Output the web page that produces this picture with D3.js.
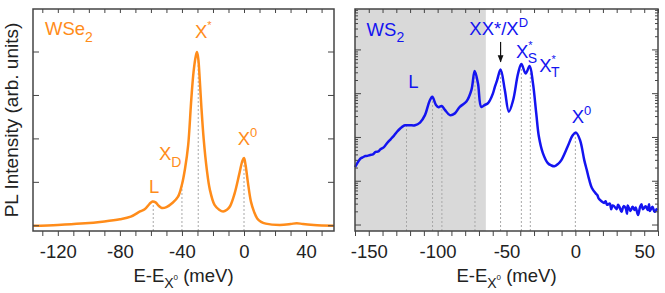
<!DOCTYPE html>
<html>
<head>
<meta charset="utf-8">
<script src="https://cdn.jsdelivr.net/npm/d3@7"></script>
<style>
  body { margin: 0; background: #fff; }
  svg { display: block; font-family: "Liberation Sans", Arial, sans-serif; }
</style>
</head>
<body>
<svg id="chart" width="665" height="293"></svg>
<script>
// WSe2 spectrum (energy in meV relative to X0, linear intensity)
const wse2Energy = [-136, -120, -105, -90, -80, -73, -67, -64, -61, -59, -57, -55, -53, -50, -46, -42.5,
  -40, -38, -36, -34, -32.5, -31, -30.3, -29.5, -28.5, -27.5, -26, -24, -22, -19, -16, -13.5, -11, -9, -6,
  -3, -1, 0, 1, 2.5, 4.5, 6.5, 8.5, 11, 14, 23, 30, 34, 38, 45, 58];
const wse2Intensity = [0.0, 0.02, 0.05, 0.1, 0.15, 0.21, 0.33, 0.38, 0.5, 0.56, 0.54, 0.46, 0.41, 0.43, 0.53, 0.67,
  0.95, 1.32, 1.85, 2.9, 3.55, 3.92, 4.0, 3.85, 3.35, 2.75, 2.0, 1.3, 0.83, 0.48, 0.37, 0.33, 0.37, 0.45, 0.75,
  1.2, 1.5, 1.56, 1.4, 1.0, 0.55, 0.32, 0.17, 0.09, 0.05, 0.02, 0.04, 0.06, 0.04, 0.02, 0.0];
const wse2Marks = [-58.5, -40, -29.5, 0];

// WS2 spectrum (log intensity)
const ws2Energy = [-160, -158, -156, -154.5, -152.5, -151, -149, -147, -145, -143, -141.5, -139, -136.8, -134, -132,
  -129.5, -127, -125, -123.5, -120, -116.4, -112.8, -109.2, -106, -103.9, -101.2, -99.3, -97.1, -94.7,
  -91.1, -87.5, -83.9, -79.1, -75.5, -73.1, -70.7, -68.3, -65.9, -63.5, -62, -59.9, -58.4, -56.8, -54.3,
  -51.2, -48.3, -45.2, -41.6, -39.2, -36.1, -33.2, -30.8, -28.4, -26.5, -23.6, -20, -17.5, -15.2, -12.5,
  -10.3, -5.6, -1.9, 0.5, 3.4, 6.5, 8.5, 10.1, 12, 14.9, 16, 17, 19, 20.9, 22, 23, 25, 26, 27, 28.1, 30, 31,
  32, 33.5, 35, 36.6, 37.5, 38, 40, 41.5, 43, 43.8, 45.5, 47, 48, 49, 51, 52.5, 53.5, 54, 56, 57.5, 59.4];
const ws2Intensity = [21, 27, 33, 35, 37.6, 38, 39.8, 41, 46.8, 48, 53.7, 60, 74, 92, 107,
  135, 162, 182, 190, 190, 190, 219, 324, 661, 851, 550, 490, 525, 427,
  324, 355, 501, 661, 1202, 3311, 1698, 501, 550, 603, 708, 1000, 1445, 2042, 3548,
  1202, 389, 708, 2884, 4786, 2884, 4266, 1738, 355, 105, 44, 26, 23, 22, 25,
  30, 62, 112, 129, 87, 30, 17, 10.7, 7, 5.2, 4.8, 4.0, 3.5, 3.2, 3.5, 2.9, 3.1, 2.3, 2.8, 2.7, 2.3, 2.9,
  2.6, 2.0, 2.7, 2.4, 1.8, 2.8, 2.1, 2.6, 2.2, 2.5, 1.7, 2.6, 3.0, 2.3, 2.7, 2.2, 3.0, 2.1, 2.6, 2.0, 2.4, 1.9];
const ws2Marks = [-122.6, -103.7, -96.9, -72.9, -54.3, -39.2, -32.7, 0];
const ws2Shade = [-160, -65];

const wse2Ticks = [-120, -80, -40, 0, 40];
const ws2Ticks = [-150, -100, -50, 0, 50];

const orange = "#ff8c1a";
const blue = "#1414f0";
const frame = "#444";
const plotTop = 9, plotBottom = 231;
const fs = 18.5;

const svg = d3.select("#chart");

function interp(xs, ys, e) {
  const i = d3.bisectLeft(xs, e);
  if (i <= 0) return ys[0];
  if (i >= xs.length) return ys[ys.length - 1];
  const t = (e - xs[i - 1]) / (xs[i] - xs[i - 1]);
  return ys[i - 1] + t * (ys[i] - ys[i - 1]);
}

function xLabel(g, cx) {
  const t = g.append("text")
    .attr("x", cx).attr("y", 281.5)
    .attr("text-anchor", "middle")
    .attr("font-size", fs).attr("fill", "#222");
  t.append("tspan").text("E-E");
  t.append("tspan").attr("font-size", 14).attr("dy", 6).text("X");
  t.append("tspan").attr("font-size", 8).attr("dy", -8).text("0");
  t.append("tspan").attr("dy", 2).text(" (meV)");
}

function drawPanel(opt) {
  const g = svg.append("g");
  const x = d3.scaleLinear().domain(opt.xDomain).range(opt.xRange);
  const y = opt.y;
  const [x0, x1] = opt.xRange;

  if (opt.shade) {
    g.append("rect")
      .attr("x", x(opt.shade[0])).attr("y", plotTop)
      .attr("width", x(opt.shade[1]) - x(opt.shade[0]))
      .attr("height", plotBottom - plotTop)
      .attr("fill", "#d9d9d9");
  }

  // dashed markers from the axis up to the curve
  g.append("g").selectAll("line")
    .data(opt.marks)
    .join("line")
      .attr("x1", d => x(d)).attr("x2", d => x(d))
      .attr("y1", plotBottom)
      .attr("y2", d => y(interp(opt.energy, opt.intensity, d)))
      .attr("stroke", "#a8a8a8")
      .attr("stroke-width", 1)
      .attr("stroke-dasharray", "2,2");

  const line = d3.line()
    .x((d, i) => x(opt.energy[i]))
    .y(d => y(d))
    .curve(d3.curveCatmullRom.alpha(0.5));

  g.append("path")
    .datum(opt.intensity)
    .attr("fill", "none")
    .attr("stroke", opt.color)
    .attr("stroke-width", 2.5)
    .attr("stroke-linejoin", "round")
    .attr("d", line);

  // bottom axis (outward ticks every 10 meV)
  const minor = d3.range(Math.ceil(opt.xDomain[0] / 10) * 10, opt.xDomain[1] + 0.1, 10);
  g.append("g")
    .attr("transform", `translate(0,${plotBottom})`)
    .call(d3.axisBottom(x).tickValues(minor).tickSize(5).tickFormat(""))
    .call(a => a.select(".domain").remove())
    .call(a => a.selectAll("line").attr("stroke", frame).attr("stroke-width", 1));
  g.append("g")
    .attr("transform", `translate(0,${plotBottom})`)
    .call(d3.axisBottom(x).tickValues(opt.ticks).tickSize(5).tickPadding(9))
    .call(a => a.select(".domain").remove())
    .call(a => a.selectAll("line").remove())
    .call(a => a.selectAll("text").attr("font-size", fs).attr("fill", "#222")
      .attr("font-family", "Liberation Sans, Arial, sans-serif").text(d => d < 0 ? "-" + (-d) : d));

  // top ticks, inward
  g.append("g")
    .attr("transform", `translate(0,${plotTop})`)
    .call(d3.axisBottom(x).tickValues(minor).tickSize(4).tickFormat(""))
    .call(a => a.select(".domain").remove())
    .call(a => a.selectAll("line").attr("stroke", frame));

  // left/right ticks, inward
  [[x0, 1], [x1, -1]].forEach(([px, dir]) => {
    const ax = g.append("g").attr("transform", `translate(${px},0)`);
    ax.selectAll("line.maj").data(opt.yMajor).join("line")
      .attr("class", "maj")
      .attr("x1", 0).attr("x2", dir * 6)
      .attr("y1", d => y(d)).attr("y2", d => y(d))
      .attr("stroke", frame).attr("stroke-width", 1);
    if (opt.yMinor) {
      ax.selectAll("line.min").data(opt.yMinor).join("line")
        .attr("class", "min")
        .attr("x1", 0).attr("x2", dir * 3)
        .attr("y1", d => y(d)).attr("y2", d => y(d))
        .attr("stroke", frame).attr("stroke-width", 1);
    }
  });

  g.append("rect")
    .attr("x", x0).attr("y", plotTop)
    .attr("width", x1 - x0).attr("height", plotBottom - plotTop)
    .attr("fill", "none").attr("stroke", frame).attr("stroke-width", 1.5);

  xLabel(g, (x0 + x1) / 2);
  return { g, x, y };
}

// ---- left: WSe2 (linear) ----
const yL = d3.scaleLinear().domain([-0.12, 4.99]).range([plotBottom, plotTop]);
const L = drawPanel({
  xDomain: [-136, 58], xRange: [33, 334], y: yL,
  energy: wse2Energy, intensity: wse2Intensity, marks: wse2Marks,
  color: orange, ticks: wse2Ticks, yMajor: [0, 1, 2, 3, 4]
});

// ---- right: WS2 (log) ----
const yR = d3.scaleLog().domain([0.73, 86000]).range([plotBottom, plotTop]);
const logMinor = [];
[1, 10, 100, 1000, 10000].forEach(dec => {
  for (let k = 2; k <= 9; k++) if (dec * k < 86000) logMinor.push(dec * k);
});
const R = drawPanel({
  xDomain: [-160, 60], xRange: [355, 658], y: yR,
  energy: ws2Energy, intensity: ws2Intensity, marks: ws2Marks, shade: ws2Shade,
  color: blue, ticks: ws2Ticks, yMajor: [1, 10, 100, 1000, 10000], yMinor: logMinor
});

// y label
svg.append("text")
  .attr("transform", "translate(18,120) rotate(-90)")
  .attr("text-anchor", "middle")
  .attr("font-size", 19).attr("fill", "#222")
  .text("PL Intensity (arb. units)");

// annotations
function label(p, e, v, color, parts) {
  const t = p.g.append("text")
    .attr("x", p.x(e)).attr("y", p.y(v))
    .attr("font-size", fs).attr("fill", color);
  parts.forEach(([s, kind]) => {
    const sp = t.append("tspan").text(s);
    if (kind === "sub") sp.attr("font-size", 14).attr("dy", 6.5);
    if (kind === "sup") sp.attr("font-size", 13).attr("dy", -8);
    if (kind === "star") sp.attr("font-size", 11).attr("dy", -9);
  });
  return t;
}

label(L, -128.3, 4.39, orange, [["WSe"], ["2", "sub"]]);
label(L, -31.6, 4.33, orange, [["X"], ["*", "star"]]);
label(L, -4.1, 1.86, orange, [["X"], ["0", "sup"]]);
label(L, -54.8, 1.51, orange, [["X"], ["D", "sub"]]);
label(L, -61.2, 0.76, orange, [["L"]]);

label(R, -151.6, 20800, blue, [["WS"], ["2", "sub"]]);
label(R, -77, 21700, blue, [["XX*/X"], ["D", "sup"]]);
label(R, -121.4, 1340, blue, [["L"]]);
const xs = label(R, -43.1, 6400, blue, [["X"], ["*", "star"]]);
xs.append("tspan").attr("font-size", 14).attr("dx", -5).attr("dy", 14).text("S");
const xt = label(R, -26.2, 3100, blue, [["X"], ["*", "star"]]);
xt.append("tspan").attr("font-size", 14).attr("dx", -5).attr("dy", 14).text("T");
label(R, -2.7, 217, blue, [["X"], ["0", "sup"]]);

// arrow
svg.append("defs").append("marker")
  .attr("id", "ah").attr("viewBox", "0 0 10 10")
  .attr("refX", 9).attr("refY", 5)
  .attr("markerWidth", 6).attr("markerHeight", 7)
  .attr("orient", "auto")
  .append("path").attr("d", "M0,1L10,5L0,9Z").attr("fill", "#111");
R.g.append("line")
  .attr("x1", R.x(-54.3)).attr("x2", R.x(-54.3))
  .attr("y1", R.y(15200)).attr("y2", R.y(5340))
  .attr("stroke", "#111").attr("stroke-width", 1.2)
  .attr("marker-end", "url(#ah)");
</script>
</body>
</html>
